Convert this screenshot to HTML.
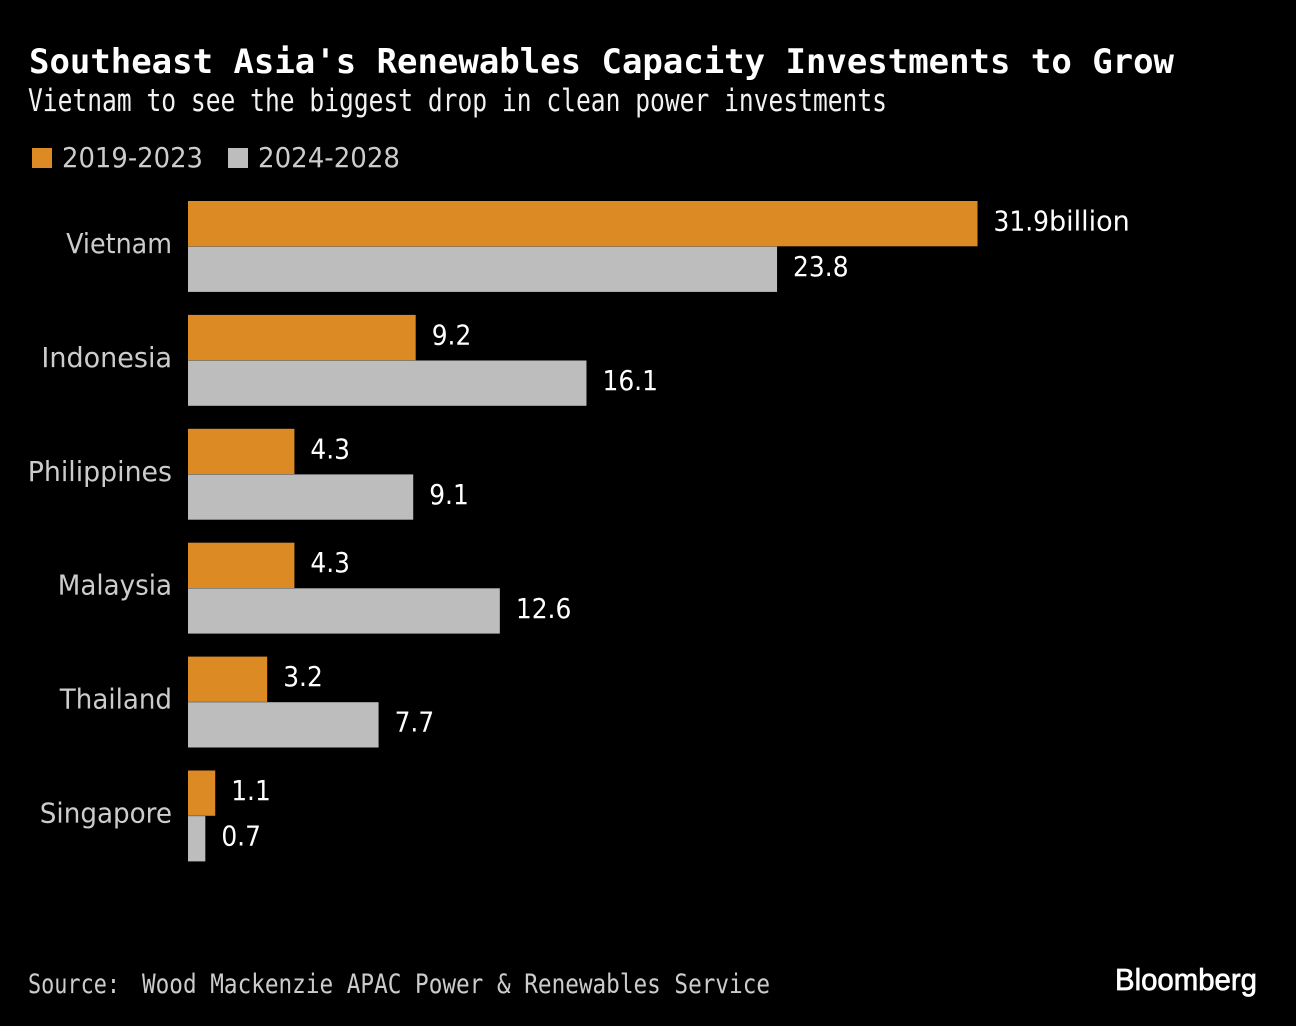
<!DOCTYPE html>
<html lang="en">
<head>
<meta charset="utf-8">
<title>Southeast Asia's Renewables Capacity Investments to Grow</title>
<style>
html,body{margin:0;padding:0;background:#000;width:1296px;height:1026px;overflow:hidden}
svg{display:block}
text{font-family:"DejaVu Sans Mono","Liberation Mono",monospace}
text.prop,#plot text{font-family:"DejaVu Sans","Liberation Sans",sans-serif}
</style>
</head>
<body>
<svg id="chart" width="1296" height="1026" viewBox="0 0 1296 1026" xmlns="http://www.w3.org/2000/svg">
<rect x="0" y="0" width="1296" height="1026" fill="#000"/>
<text x="29" y="73" font-size="34" font-weight="700" fill="#fff" textLength="1145" lengthAdjust="spacingAndGlyphs">Southeast Asia's Renewables Capacity Investments to Grow</text>
<text x="28" y="111" font-size="31" fill="#f2f2f2" textLength="859" lengthAdjust="spacingAndGlyphs">Vietnam to see the biggest drop in clean power investments</text>
<rect x="32" y="148" width="20" height="20" fill="#dc8a24"/>
<text class="prop" x="62" y="167" font-size="28" fill="#cccccc" textLength="141" lengthAdjust="spacingAndGlyphs">2019-2023</text>
<rect x="228" y="148" width="20" height="20" fill="#bdbdbd"/>
<text class="prop" x="258" y="167" font-size="28" fill="#cccccc" textLength="142" lengthAdjust="spacingAndGlyphs">2024-2028</text>
<g id="plot"></g>
<text x="28" y="993" font-size="27" fill="#cccccc" textLength="92" lengthAdjust="spacingAndGlyphs">Source:</text>
<text x="142" y="993" font-size="27" fill="#cccccc" textLength="628" lengthAdjust="spacingAndGlyphs">Wood Mackenzie APAC Power &amp; Renewables Service</text>
<text x="1115" y="990" font-size="31" fill="#fff" stroke="#fff" stroke-width="0.7" textLength="142" lengthAdjust="spacingAndGlyphs" style="font-family:'Liberation Sans',sans-serif">Bloomberg</text>
</svg>
<script>
const categories = ["Vietnam", "Indonesia", "Philippines", "Malaysia", "Thailand", "Singapore"];
const series2019to2023 = [31.9, 9.2, 4.3, 4.3, 3.2, 1.1];
const series2024to2028 = [23.8, 16.1, 9.1, 12.6, 7.7, 0.7];
const valueUnit = "billion";

const NS = "http://www.w3.org/2000/svg";
const plot = document.getElementById("plot");
const xZero = 188, xPerUnit = 24.75;
const groupTop = 201, groupStep = 113.9, barH = 45.3;
const xScale = v => xZero + v * xPerUnit;
const yScale = i => groupTop + i * groupStep;

// Small per-glyph width corrections toward the reference typeface.
const glyphAdjust = { V: -2.5, m: -2.5, M: -2, T: -2, S: -2, I: 2, P: 1 };

function makeText(x, y, str, size, fill, squeeze, anchor) {
  const t = document.createElementNS(NS, "text");
  t.setAttribute("x", x);
  t.setAttribute("y", y);
  t.setAttribute("font-size", size);
  t.setAttribute("fill", fill);
  if (anchor) t.setAttribute("text-anchor", anchor);
  t.textContent = str;
  plot.appendChild(t);
  let width = t.getComputedTextLength() * squeeze;
  if (anchor) {
    for (const ch of str) width += glyphAdjust[ch] || 0;
  }
  t.setAttribute("textLength", width.toFixed(1));
  t.setAttribute("lengthAdjust", "spacingAndGlyphs");
  return width;
}

function drawBar(value, i, offset, color, seriesName) {
  const top = yScale(i) + offset;
  const r = document.createElementNS(NS, "rect");
  r.setAttribute("x", xZero);
  r.setAttribute("y", top);
  r.setAttribute("width", xScale(value) - xZero);
  r.setAttribute("height", barH);
  r.setAttribute("fill", color);
  
  
  plot.appendChild(r);

  const lx = xScale(value) + 16;
  const ly = top + 29.5;
  const label = value.toFixed(1);
  const w = makeText(lx, ly, label, 28, "#ffffff", 0.89);
  const valueEl = plot.lastChild;
  
  
  if (i === 0 && offset === 0) {
    makeText(lx + w, ly, valueUnit, 28, "#ffffff", 0.965);
    const unitEl = plot.lastChild;
    
    
  }
}

categories.forEach((name, i) => {
  makeText(172, yScale(i) + 52, name, 28, "#cccccc", 0.95, "end");
  const catEl = plot.lastChild;
  
  

  drawBar(series2019to2023[i], i, 0, "#dc8a24", "2019-2023");
  drawBar(series2024to2028[i], i, 45.6, "#bdbdbd", "2024-2028");
});
</script>
</body>
</html>
